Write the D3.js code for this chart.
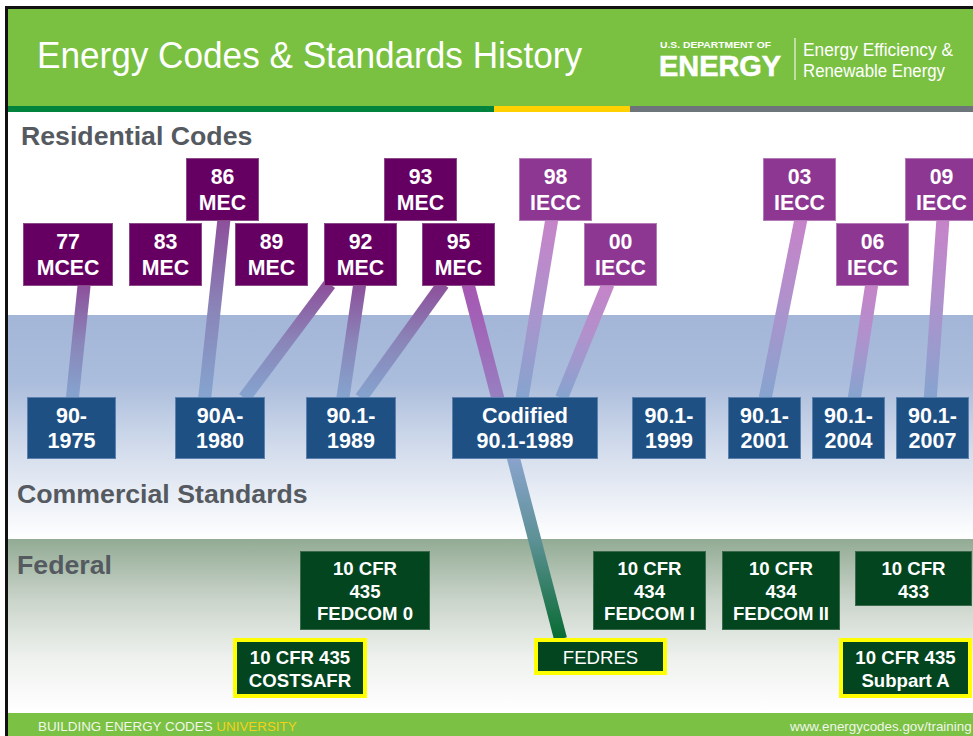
<!DOCTYPE html>
<html>
<head>
<meta charset="utf-8">
<script src="https://cdn.jsdelivr.net/npm/d3@7"></script>
<style>
  html, body { margin: 0; padding: 0; background: #fff; overflow: hidden; }
  svg { display: block; font-family: "Liberation Sans", Arial, sans-serif; }
</style>
</head>
<body>
<div id="slide"></div>
<script>
// residential model codes and the year of each edition
const residentialCodes = ["77 MCEC", "83 MEC", "86 MEC", "89 MEC", "92 MEC", "93 MEC", "95 MEC",
                          "98 IECC", "00 IECC", "03 IECC", "06 IECC", "09 IECC"];
const residentialYears = [1977, 1983, 1986, 1989, 1992, 1993, 1995, 1998, 2000, 2003, 2006, 2009];

// ASHRAE commercial standards
const commercialStandards = ["90-1975", "90A-1980", "90.1-1989", "Codified 90.1-1989",
                             "90.1-1999", "90.1-2001", "90.1-2004", "90.1-2007"];

// federal rules (the yellow outlined ones are the residential rules)
const federalRules = ["10 CFR 435 FEDCOM 0", "10 CFR 435 COSTSAFR", "FEDRES", "10 CFR 434 FEDCOM I",
                      "10 CFR 434 FEDCOM II", "10 CFR 433", "10 CFR 435 Subpart A"];
const federalResidential = ["10 CFR 435 COSTSAFR", "FEDRES", "10 CFR 435 Subpart A"];

// section headings
const sectionTitles = ["Residential Codes", "Commercial Standards", "Federal"];

// code -> standard it refers to
const links = [
  ["77 MCEC", "90-1975"],
  ["86 MEC", "90A-1980"],
  ["92 MEC", "90A-1980"],
  ["92 MEC", "90.1-1989"],
  ["95 MEC", "90.1-1989"],
  ["95 MEC", "FEDRES"],
  ["98 IECC", "Codified 90.1-1989"],
  ["00 IECC", "Codified 90.1-1989"],
  ["03 IECC", "90.1-2001"],
  ["06 IECC", "90.1-2004"],
  ["09 IECC", "90.1-2007"]
];

// ---- layout ----
const W = 973, H = 736;

const svg = d3.select("#slide").append("svg")
  .attr("width", W)
  .attr("height", H);

const defs = svg.append("defs");

// timeline scale for the residential row (slide is not linear in time)
const resX = d3.scaleLinear()
  .domain(residentialYears)
  .range([23, 129, 186, 235, 324, 384, 422, 519, 584, 763, 836, 905]);
const resTier = d3.scaleOrdinal()
  .domain(residentialCodes)
  .range([1, 1, 0, 1, 1, 0, 1, 0, 1, 0, 1, 0]);
const tierY = d3.scaleOrdinal().domain([0, 1]).range([158, 223]);
const resColor = d3.scaleOrdinal().domain(["MEC", "IECC"]).range(["#650062", "#8d3792"]);

const comX = d3.scaleOrdinal().domain(commercialStandards)
  .range([27, 175, 306, 452, 632, 728, 812, 896]);
const comW = d3.scaleOrdinal().domain(commercialStandards)
  .range([89, 90, 90, 146, 74, 73, 73, 73]);

const fedX = d3.scaleOrdinal().domain(federalRules).range([300, 233, 534, 593, 722, 855, 839]);
const fedY = d3.scaleOrdinal().domain(federalRules).range([551, 638, 638, 551, 551, 551, 638]);
const fedW = d3.scaleOrdinal().domain(federalRules).range([130, 134, 133, 113, 118, 117, 133]);
const fedH = d3.scaleOrdinal().domain(federalRules).range([79, 60, 37, 79, 79, 55, 60]);

const sectionX = d3.scaleOrdinal().domain(sectionTitles).range([21, 17, 17]);
const sectionY = d3.scaleOrdinal().domain(sectionTitles).range([145, 503, 574]);

// where each connector leaves / meets its box, as a fraction of box width
const linkFrom = [0.68, 0.52, 0.08, 0.49, 0.29, 0.63, 0.45, 0.33, 0.52, 0.49, 0.52];
const linkTo   = [0.51, 0.33, 0.77, 0.41, 0.61, 0.20, 0.48, 0.75, 0.51, 0.58, 0.47];

// box lookup
const boxes = new Map();
residentialCodes.forEach((c, i) => {
  const y = tierY(resTier(c));
  boxes.set(c, { x: resX(residentialYears[i]), y: y, w: c === "77 MCEC" ? 90 : 73, h: 63 });
});
commercialStandards.forEach(c => boxes.set(c, { x: comX(c), y: 397, w: comW(c), h: 62 }));
federalRules.forEach(c => boxes.set(c, { x: fedX(c), y: fedY(c), w: fedW(c), h: fedH(c) }));

// ---- background ----
svg.append("rect").attr("width", W).attr("height", H).attr("fill", "#fff");

const blueBand = defs.append("linearGradient").attr("id", "blueBand")
  .attr("x1", 0).attr("x2", 0).attr("y1", 0).attr("y2", 1);
[[0, "#a3b6d8"], [0.3, "#abbddc"], [0.62, "#d5deed"], [1, "#ffffff"]].forEach(s =>
  blueBand.append("stop").attr("offset", s[0]).attr("stop-color", s[1]));

const fedBand = defs.append("linearGradient").attr("id", "fedBand")
  .attr("x1", 0).attr("x2", 0).attr("y1", 0).attr("y2", 1);
[[0, "#92ab94"], [0.35, "#cad4ca"], [0.68, "#eef1ee"], [1, "#ffffff"]].forEach(s =>
  fedBand.append("stop").attr("offset", s[0]).attr("stop-color", s[1]));

svg.append("rect").attr("x", 8).attr("y", 315).attr("width", W - 8).attr("height", 224)
  .attr("fill", "url(#blueBand)");
svg.append("rect").attr("x", 8).attr("y", 539).attr("width", W - 8).attr("height", 174)
  .attr("fill", "url(#fedBand)");

// header
svg.append("rect").attr("x", 8).attr("y", 9).attr("width", W - 8).attr("height", 97).attr("fill", "#7ac142");
svg.append("rect").attr("x", 8).attr("y", 106).attr("width", 486).attr("height", 6).attr("fill", "#00843d");
svg.append("rect").attr("x", 494).attr("y", 106).attr("width", 136).attr("height", 6).attr("fill", "#ffd100");
svg.append("rect").attr("x", 630).attr("y", 106).attr("width", W - 630).attr("height", 6).attr("fill", "#6d747a");

svg.append("text").attr("x", 37).attr("y", 68)
  .attr("font-size", 36).attr("fill", "#fff")
  .attr("textLength", 545).attr("lengthAdjust", "spacingAndGlyphs")
  .text("Energy Codes & Standards History");

svg.append("text").attr("x", 660).attr("y", 48)
  .attr("font-size", 9.4).attr("font-weight", "bold").attr("fill", "#fff")
  .attr("textLength", 111).attr("lengthAdjust", "spacingAndGlyphs")
  .text("U.S. DEPARTMENT OF");
svg.append("text").attr("x", 659).attr("y", 76)
  .attr("font-size", 30).attr("font-weight", "bold").attr("fill", "#fff")
  .attr("stroke", "#fff").attr("stroke-width", 0.6)
  .attr("textLength", 122).attr("lengthAdjust", "spacingAndGlyphs")
  .text("ENERGY");
svg.append("line").attr("x1", 795).attr("x2", 795).attr("y1", 38).attr("y2", 80)
  .attr("stroke", "#fff").attr("stroke-width", 1.2).attr("opacity", 0.85);
svg.append("text").attr("x", 803).attr("y", 56)
  .attr("font-size", 18).attr("fill", "#fff")
  .attr("textLength", 150).attr("lengthAdjust", "spacingAndGlyphs")
  .text("Energy Efficiency &");
svg.append("text").attr("x", 803).attr("y", 77)
  .attr("font-size", 18).attr("fill", "#fff")
  .attr("textLength", 142).attr("lengthAdjust", "spacingAndGlyphs")
  .text("Renewable Energy");

// footer
svg.append("rect").attr("x", 8).attr("y", 713).attr("width", W - 8).attr("height", 23).attr("fill", "#7bc143");
const foot = svg.append("text").attr("x", 38).attr("y", 730.7).attr("font-size", 13.4).attr("fill", "#f0f6ea");
foot.append("tspan").text("BUILDING ENERGY CODES ");
foot.append("tspan").attr("fill", "#f5d018").text("UNIVERSITY");
svg.append("text").attr("x", 790).attr("y", 730.7).attr("font-size", 13.4).attr("fill", "#f0f6ea")
  .text("www.energycodes.gov/training");

// frame
svg.append("rect").attr("x", 5).attr("y", 6).attr("width", W - 5).attr("height", 3).attr("fill", "#111");
svg.append("rect").attr("x", 5).attr("y", 6).attr("width", 3).attr("height", H - 6).attr("fill", "#111");

// section titles
svg.selectAll("text.section").data(sectionTitles).join("text")
  .attr("class", "section")
  .attr("x", d => sectionX(d))
  .attr("y", d => sectionY(d))
  .attr("font-size", 26.7).attr("font-weight", "bold").attr("fill", "#555a61")
  .text(d => d);

// ---- connectors ----
const linkData = links.map((l, i) => {
  const s = boxes.get(l[0]), t = boxes.get(l[1]);
  return {
    source: l[0], target: l[1],
    x1: s.x + linkFrom[i] * s.w, y1: s.y + s.h - 2,
    x2: t.x + linkTo[i] * t.w, y2: t.y + 1,
    kind: l[1] === "FEDRES" ? "fed" : (l[0].includes("IECC") ? "iecc" : "mec")
  };
});

linkData.forEach((d, i) => {
  const g = defs.append("linearGradient").attr("id", "lg" + i)
    .attr("gradientUnits", "userSpaceOnUse")
    .attr("x1", 0).attr("x2", 0).attr("y1", d.y1).attr("y2", d.y2);
  let stops;
  if (d.kind === "fed") {
    const mid = (459 - d.y1) / (d.y2 - d.y1);
    stops = [[0, "#a656b2"], [mid * 0.55, "#9a78be"], [mid, "#89a3cc"], [mid + 0.22, "#5f9298"], [1, "#086b33"]];
  } else if (d.kind === "iecc") {
    stops = [[0, "#c683c8"], [0.45, "#b091cc"], [1, "#86a4cf"]];
  } else {
    stops = [[0, "#8d4f9b"], [0.5, "#8a85b8"], [1, "#85a4cf"]];
  }
  stops.forEach(s => g.append("stop").attr("offset", s[0]).attr("stop-color", s[1]));
});

svg.append("g").selectAll("line").data(linkData).join("line")
  .attr("x1", d => d.x1).attr("y1", d => d.y1)
  .attr("x2", d => d.x2).attr("y2", d => d.y2)
  .attr("stroke", (d, i) => `url(#lg${i})`)
  .attr("stroke-width", 13);

// ---- boxes ----
function splitTwo(label) {
  const sp = label.indexOf(" ");
  if (sp > 0) return [label.slice(0, sp), label.slice(sp + 1)];
  const dash = label.indexOf("-");
  return [label.slice(0, dash + 1), label.slice(dash + 1)];
}
function fedLines(label) {
  const w = label.split(" ");
  if (w.length === 1) return [label];
  if (federalResidential.includes(label)) return [w.slice(0, 3).join(" "), w.slice(3).join(" ")];
  return [w.slice(0, 2).join(" "), w[2], w.slice(3).join(" ")].filter(s => s);
}

const res = svg.append("g").selectAll("g").data(residentialCodes).join("g")
  .attr("transform", d => `translate(${boxes.get(d).x},${boxes.get(d).y})`);
res.append("rect")
  .attr("x", 0.5).attr("y", 0.5)
  .attr("width", d => boxes.get(d).w - 1).attr("height", d => boxes.get(d).h - 1)
  .attr("fill", d => resColor(d.split(" ")[1] === "IECC" ? "IECC" : "MEC"))
  .attr("stroke", d => d.includes("IECC") ? "#b27ab6" : "#8a4a88").attr("stroke-width", 1);
res.selectAll("text").data(d => splitTwo(d).map((t, i) => ({ t, i, w: boxes.get(d).w }))).join("text")
  .attr("x", d => d.w / 2).attr("y", d => d.i === 0 ? 26 : 51.5)
  .attr("text-anchor", "middle").attr("font-size", 21.3).attr("font-weight", "bold").attr("fill", "#fff")
  .text(d => d.t);

const com = svg.append("g").selectAll("g").data(commercialStandards).join("g")
  .attr("transform", d => `translate(${boxes.get(d).x},${boxes.get(d).y})`);
com.append("rect")
  .attr("x", 0.5).attr("y", 0.5)
  .attr("width", d => boxes.get(d).w - 1).attr("height", d => boxes.get(d).h - 1)
  .attr("fill", "#1e5084").attr("stroke", "#5b80ad").attr("stroke-width", 1);
com.selectAll("text").data(d => splitTwo(d).map((t, i) => ({ t, i, w: boxes.get(d).w }))).join("text")
  .attr("x", d => d.w / 2).attr("y", d => d.i === 0 ? 25.5 : 50.5)
  .attr("text-anchor", "middle").attr("font-size", 21.5).attr("font-weight", "bold").attr("fill", "#fff")
  .text(d => d.t);

const fed = svg.append("g").selectAll("g").data(federalRules).join("g")
  .attr("transform", d => `translate(${boxes.get(d).x},${boxes.get(d).y})`);
fed.append("rect")
  .attr("x", d => federalResidential.includes(d) ? 2 : 0.5)
  .attr("y", d => federalResidential.includes(d) ? 2 : 0.5)
  .attr("width", d => boxes.get(d).w - (federalResidential.includes(d) ? 4 : 1))
  .attr("height", d => boxes.get(d).h - (federalResidential.includes(d) ? 4 : 1))
  .attr("fill", "#03451f")
  .attr("stroke", d => federalResidential.includes(d) ? "#ffff00" : "#3a6a4a")
  .attr("stroke-width", d => federalResidential.includes(d) ? 4 : 1);
fed.selectAll("text").data(d => {
    const lines = fedLines(d);
    const top = federalResidential.includes(d) ? 26 : 24;
    return lines.map((t, i) => ({ t, y: top + i * 22.5, w: boxes.get(d).w, bold: d !== "FEDRES" }));
  }).join("text")
  .attr("x", d => d.w / 2).attr("y", d => d.y)
  .attr("text-anchor", "middle").attr("font-size", 18.6)
  .attr("font-weight", d => d.bold ? "bold" : "normal").attr("fill", "#fff")
  .text(d => d.t);
</script>
</body>
</html>
